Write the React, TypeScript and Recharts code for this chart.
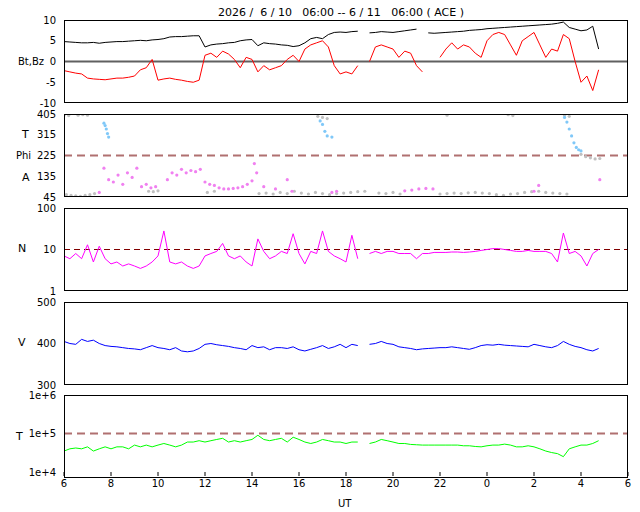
import React from "react";
import {
  ComposedChart,
  Line,
  Scatter,
  XAxis,
  YAxis,
  ReferenceLine,
} from "recharts";

// time axis: 15-min samples from 06:00 to 04:45 next day (hours, 24+ = next day)
const TIME: number[] = Array.from({ length: 92 }, (_, i) => 6 + i * 0.25);

const BT: (number | null)[] = [
  4.8, 4.7, 4.6, 4.5, 4.5, 4.6, 4.4, 4.6,
  4.7, 4.8, 4.8, 4.9, 5.0, 5.1, 5.0, 5.2,
  5.3, 5.5, 5.9, 6.0, 6.0, 6.1, 6.2, 6.2,
  3.5, 4.0, 4.2, 4.3, 4.5, 4.6, 5.0, 5.2,
  5.3, 3.8, 4.5, 4.3, 4.2, 4.0, 3.9, 3.6,
  3.8, 4.5, 5.5, 5.8, 5.5, 6.5, 7.0, 7.1,
  7.0, 7.2, 7.3, null, 6.9, 7.0, 7.2, 7.1,
  7.0, 7.2, 7.4, 7.6, 7.8, null, 6.9, 6.8,
  6.9, 7.0, 7.1, 7.2, 7.3, 7.5, 7.6, 7.7,
  7.9, 8.0, 8.1, 8.2, 8.3, 8.4, 8.5, 8.6,
  8.7, 8.8, 8.9, 9.0, 9.2, 9.5, 8.2, 7.8,
  7.4, 7.6, 8.5, 3.0,
];

const BZ: (number | null)[] = [
  -2.2, -2.5, -2.8, -3.0, -4.0, -4.2, -4.3, -4.4,
  -4.2, -4.0, -4.0, -3.8, -3.5, -2.0, -1.5, 0.5,
  -4.5, -4.2, -4.0, -4.3, -4.5, -4.8, -5.0, -4.5,
  1.5, 2.0, 1.0, 2.5, 1.8, 0.5, -1.5, 1.0,
  0.5, -2.5, -1.0, -2.0, -1.5, -1.0, 0.5, 1.5,
  0.0, 3.0, 4.0, 4.5, 5.0, 3.5, -1.0, -3.0,
  -2.5, -3.0, -1.0, null, 0.0, 3.5, 4.0, 3.5,
  3.0, 1.0, 2.5, 2.0, -1.0, -2.5, null, null,
  1.0, 3.0, 4.5, 3.0, 4.0, 3.5, 2.0, 1.0,
  5.0, 6.5, 7.0, 6.5, 4.0, 1.5, 5.0, 6.0,
  7.0, 4.0, 1.0, 3.0, 2.5, 6.5, 5.5, 0.0,
  -5.0, -3.5, -7.0, -2.0,
];

const DENS: (number | null)[] = [
  7, 6, 8, 6, 13, 5, 12, 6,
  4.5, 5, 4, 4.5, 4, 3.5, 4, 5,
  7, 28, 5, 4.5, 5, 4, 3.5, 4,
  7, 8, 9, 14, 7, 6, 7, 5,
  4, 18, 9, 6, 7, 9, 8, 24,
  8, 4.5, 9, 8, 28, 9, 7, 6,
  5, 22, 6, null, 8, 9, 8, 9,
  9, 8, 8, 8, 6, 8, 8, 8.5,
  8.5, 8.5, 8.7, 8.7, 8.5, 8.7, 9, 9.5,
  10, 10.5, 10.5, 10, 9.5, 9, 9, 9.5,
  9, 9, 9, 8, 5, 25, 8, 9,
  7, 4, 8, 10,
];

const SPEED: (number | null)[] = [
  405, 400, 398, 410, 405, 408, 400, 395,
  393, 392, 390, 388, 387, 385, 390, 395,
  390, 388, 385, 390, 382, 380, 382, 388,
  398, 400, 397, 395, 393, 390, 388, 385,
  395, 390, 392, 385, 390, 390, 388, 392,
  385, 382, 386, 390, 395, 388, 392, 398,
  390, 398, 395, null, 398, 400, 405, 400,
  398, 392, 390, 388, 385, 387, 388, 389,
  390, 390, 392, 390, 388, 386, 390, 395,
  397, 396, 398, 396, 395, 394, 393, 392,
  398, 395, 392, 390, 395, 405, 398, 393,
  390, 385, 382, 388,
];

const TEMP: (number | null)[] = [
  3.5e4, 4e4, 4.2e4, 4e4, 4.5e4, 3.5e4, 4e4, 4.5e4,
  4e4, 4.5e4, 4.5e4, 4e4, 5e4, 4.5e4, 5e4, 4.5e4,
  5e4, 5.5e4, 5e4, 4.5e4, 5e4, 6e4, 6e4, 6.5e4,
  6e4, 6.5e4, 7e4, 7.5e4, 6e4, 6.5e4, 6e4, 6.5e4,
  7e4, 9e4, 7e4, 6.5e4, 7e4, 7.5e4, 6e4, 8e4,
  7e4, 6e4, 5.5e4, 6e4, 7e4, 6.5e4, 6e4, 6e4,
  5.5e4, 6e4, 6e4, null, 5.5e4, 6e4, 7e4, 6.5e4,
  6e4, 5.5e4, 5.5e4, 5.2e4, 5.1e4, 5e4, 5e4, 5e4,
  5e4, 5e4, 5e4, 5e4, 4.8e4, 4.8e4, 4.6e4, 4.5e4,
  4.8e4, 5e4, 5e4, 5.3e4, 5e4, 4.5e4, 4.5e4, 4.8e4,
  4.5e4, 4e4, 3.5e4, 3.2e4, 3e4, 2.5e4, 4e4, 4.5e4,
  5e4, 5e4, 5.5e4, 6.5e4,
];

// Phi angle scatter, split by colour
const GRAY_T = [6.1, 6.3, 6.5, 6.7, 6.9, 7.1, 7.3, 9.6, 9.8, 10.0, 12.1, 12.4,
  14.3, 14.6, 14.9, 15.2, 15.5, 15.8, 16.1, 16.4, 16.7, 17.0, 17.3, 17.6, 17.9, 18.2, 18.5, 18.8,
  19.4, 19.7, 20.0, 20.3,
  22.0, 22.3, 22.6, 22.9, 23.2, 23.5, 23.8, 24.1, 24.4, 24.7, 25.0, 25.3, 25.6, 25.9, 26.2, 26.5, 26.8, 27.1, 27.4,
  6.0, 6.2, 6.6, 6.8, 7.0, 16.8, 17.0, 17.2, 22.3, 24.9, 25.1, 27.3, 27.5,
  28.0, 28.2, 28.4, 28.6, 28.8];
const GRAY_V = [55, 52, 50, 48, 52, 55, 60, 70, 68, 72, 65, 70,
  60, 62, 58, 65, 60, 70, 62, 58, 65, 60, 55, 60, 62, 65, 68, 70,
  62, 60, 65, 58,
  58, 60, 62, 60, 63, 65, 62, 60, 55, 52, 58, 60, 65, 68, 70, 65, 62, 60, 58,
  400, 398, 400, 402, 400, 395, 390, 385, 400, 402, 398, 400, 395,
  230, 220, 215, 210, 212];

const PINK_T = [7.5, 7.7, 7.9, 8.1, 8.3, 8.5, 8.7, 8.9, 9.1, 9.3, 9.5, 9.7, 9.9,
  10.4, 10.6, 10.8, 11.0, 11.2, 11.4, 11.6, 11.8,
  12.0, 12.2, 12.4, 12.6, 12.8, 13.0, 13.2, 13.4, 13.6, 13.8, 14.0, 14.1, 14.2,
  14.5, 15.0, 15.5, 15.7, 17.4, 17.6, 20.5, 20.8, 21.1, 21.4, 21.7, 26.0, 26.2, 28.8];
const PINK_V = [65, 170, 120, 110, 140, 100, 150, 130, 170, 90, 100, 85, 90,
  120, 150, 140, 165, 150, 160, 155, 165,
  110, 100, 95, 85, 80, 80, 82, 85, 90, 100, 115, 190, 150,
  90, 80, 120, 70, 65, 70, 72, 75, 80, 82, 80, 70, 95, 120];

const BLUE_T = [7.7, 7.75, 7.8, 7.85, 7.9, 16.9, 17.0, 17.1, 17.2, 17.4,
  27.3, 27.4, 27.5, 27.6, 27.7, 27.8, 27.9, 28.0];
const BLUE_V = [365, 355, 340, 320, 305, 375, 360, 330, 310, 305,
  390, 370, 340, 310, 280, 260, 250, 245];

const X_TICKS = [6, 8, 10, 12, 14, 16, 18, 20, 22, 24, 26, 28, 30];

const series = TIME.map((t, i) => ({
  t, bt: BT[i], bz: BZ[i], n: DENS[i], v: SPEED[i], temp: TEMP[i],
}));
const pts = (ts: number[], vs: number[]) => ts.map((t, i) => ({ t, phi: vs[i] }));

const FONT = "'DejaVu Sans', sans-serif";
const tickStyle = { fontSize: 10, fill: "#000", fontFamily: FONT };
const W = 640;
const LEFT = 64;
const PW = 564;
const PH = 83;
const PAD = 6;

const Dot = (color: string) => (p: any) =>
  <circle cx={p.cx} cy={p.cy} r={1.6} fill={color} />;

const Panel = ({ top, children }: { top: number; children: React.ReactNode }) => (
  <>
    <div style={{ position: "absolute", left: 0, top: top - PAD }}>
      {children}
    </div>
    <div style={{ position: "absolute", left: LEFT, top, width: PW, height: PH, border: "1px solid #000", boxSizing: "border-box", pointerEvents: "none" }} />
  </>
);

const xAxis = (show: boolean) => (
  <XAxis dataKey="t" type="number" domain={[6, 30]} ticks={X_TICKS} allowDataOverflow
    tickFormatter={(h: number) => (show ? String(h % 24) : "")}
    tick={tickStyle} tickLine={{ stroke: "#000" }} axisLine={false}
    tickSize={4} tickMargin={4} height={show ? 22 : 0} hide={!show} />
);

const Label = ({ x, y, text, size = 11 }: { x: number; y: number; text: string; size?: number }) => (
  <div style={{ position: "absolute", zIndex: 5, left: x, top: y, fontSize: size, fontFamily: FONT, whiteSpace: "pre", lineHeight: "14px" }}>{text}</div>
);

export default function App() {
  const cp = { width: W, margin: { top: PAD, right: W - LEFT - PW, bottom: PAD, left: 26 } };
  const yW = 38;
  return (
    <div style={{ position: "relative", width: 640, height: 512, margin: "-8px -8px 0 -8px", background: "#fff", fontFamily: FONT }}>
      <Label x={218} y={6} text={"2026 /  6 / 10   06:00 -- 6 / 11   06:00 ( ACE )"} />

      <Panel top={20}>
        <ComposedChart {...cp} height={PH + PAD * 2} data={series}>
          {xAxis(false)}
          <YAxis domain={[-10, 10]} ticks={[-10, -5, 0, 5, 10]} width={yW} tick={tickStyle} axisLine={false} tickLine={false} allowDataOverflow />
          <ReferenceLine y={0} stroke="#606060" strokeWidth={2} />
          <Line dataKey="bt" stroke="#000" strokeWidth={1} dot={false} isAnimationActive={false} type="linear" />
          <Line dataKey="bz" stroke="#ff0000" strokeWidth={1} dot={false} isAnimationActive={false} type="linear" />
        </ComposedChart>
      </Panel>
      <Label x={18} y={55} text="Bt,Bz" size={10} />

      <Panel top={114}>
        <ComposedChart {...cp} height={PH + PAD * 2}>
          {xAxis(false)}
          <YAxis dataKey="phi" type="number" domain={[45, 405]} ticks={[45, 135, 225, 315, 405]} width={yW} tick={tickStyle} axisLine={false} tickLine={false} allowDataOverflow />
          <ReferenceLine y={225} stroke="#b07070" strokeWidth={2} strokeDasharray="8 5" />
          <Scatter data={pts(GRAY_T, GRAY_V)} dataKey="phi" shape={Dot("#c0c0c0")} isAnimationActive={false} />
          <Scatter data={pts(PINK_T, PINK_V)} dataKey="phi" shape={Dot("#f080f0")} isAnimationActive={false} />
          <Scatter data={pts(BLUE_T, BLUE_V)} dataKey="phi" shape={Dot("#80c8f8")} isAnimationActive={false} />
        </ComposedChart>
      </Panel>
      <Label x={22} y={128} text="T" />
      <Label x={16} y={149} text="Phi" size={10} />
      <Label x={22} y={171} text="A" />

      <Panel top={208}>
        <ComposedChart {...cp} height={PH + PAD * 2} data={series}>
          {xAxis(false)}
          <YAxis scale="log" domain={[1, 100]} ticks={[1, 10, 100]} width={yW} tick={tickStyle} axisLine={false} tickLine={false} allowDataOverflow />
          <ReferenceLine y={10} stroke="#800000" strokeDasharray="6 4" />
          <Line dataKey="n" stroke="#ff00ff" strokeWidth={1} dot={false} isAnimationActive={false} type="linear" />
        </ComposedChart>
      </Panel>
      <Label x={18} y={242} text="N" />

      <Panel top={302}>
        <ComposedChart {...cp} height={PH + PAD * 2} data={series}>
          {xAxis(false)}
          <YAxis domain={[300, 500]} ticks={[300, 400, 500]} width={yW} tick={tickStyle} axisLine={false} tickLine={false} allowDataOverflow />
          <Line dataKey="v" stroke="#0000ff" strokeWidth={1} dot={false} isAnimationActive={false} type="linear" />
        </ComposedChart>
      </Panel>
      <Label x={18} y={336} text="V" />

      <Panel top={395}>
        <ComposedChart {...cp} height={PH + PAD + 22} data={series}>
          {xAxis(true)}
          <YAxis scale="log" domain={[1e4, 1e6]} ticks={[1e4, 1e5, 1e6]} width={yW} tick={tickStyle} axisLine={false} tickLine={false} allowDataOverflow
            tickFormatter={(v: number) => `1e+${Math.round(Math.log10(v))}`} />
          <ReferenceLine y={1e5} stroke="#b07070" strokeWidth={2} strokeDasharray="8 5" />
          <Line dataKey="temp" stroke="#00ff00" strokeWidth={1} dot={false} isAnimationActive={false} type="linear" />
        </ComposedChart>
      </Panel>
      <Label x={16} y={430} text="T" />
      <Label x={338} y={497} text="UT" size={10} />
    </div>
  );
}
